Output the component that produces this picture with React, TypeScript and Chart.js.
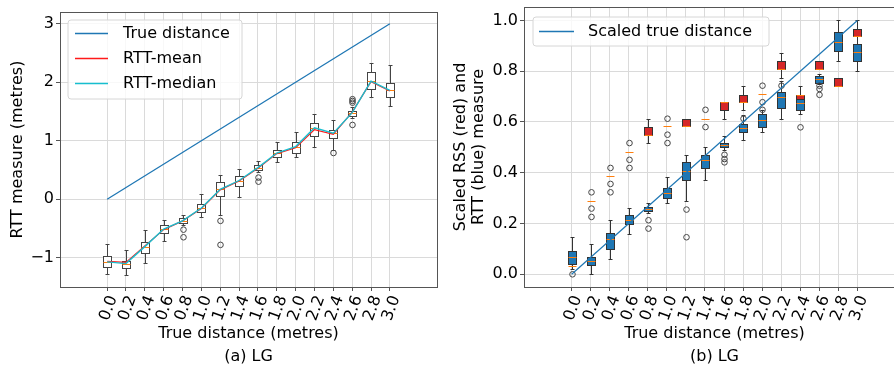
import React, { useEffect, useRef } from "react";
import { Chart, registerables } from "chart.js";
Chart.register(...registerables);

const FONT = "'DejaVu Sans', sans-serif";

// ---------- shared categories ----------
const distances = [0.0, 0.2, 0.4, 0.6, 0.8, 1.0, 1.2, 1.4, 1.6, 1.8, 2.0, 2.2, 2.4, 2.6, 2.8, 3.0];

// ---------- (a) LG : RTT measure (metres) ----------
const aLow = [-1.28, -1.30, -1.09, -0.72, -0.44, -0.31, -0.27, 0.03, 0.47, 0.63, 0.72, 0.90, 0.85, 1.39, 1.74, 1.60];
const aQ1 = [-1.15, -1.17, -0.92, -0.58, -0.40, -0.21, 0.05, 0.23, 0.50, 0.73, 0.79, 1.08, 1.05, 1.43, 1.88, 1.74];
const aMedian = [-1.07, -1.10, -0.81, -0.51, -0.37, -0.15, 0.17, 0.32, 0.54, 0.79, 0.90, 1.22, 1.13, 1.48, 2.02, 1.86];
const aQ3 = [-0.97, -1.05, -0.73, -0.44, -0.32, -0.08, 0.30, 0.39, 0.58, 0.84, 0.97, 1.31, 1.19, 1.51, 2.17, 1.99];
const aHigh = [-0.77, -0.86, -0.52, -0.35, -0.27, 0.09, 0.42, 0.51, 0.66, 0.97, 1.15, 1.46, 1.35, 1.57, 2.33, 2.29];
const aMean = [-1.06, -1.08, -0.80, -0.52, -0.37, -0.16, 0.16, 0.31, 0.53, 0.78, 0.88, 1.19, 1.11, 1.49, 2.01, 1.85];
const aOutliers = [[], [], [], [], [-0.52, -0.65], [], [-0.37, -0.78], [], [0.37, 0.30], [], [], [], [0.79], [1.71, 1.68, 1.65, 1.27], [], []];
const aTrueX = [0.0, 3.0];
const aTrueY = [0.0, 3.0];
const aYTicks = [-1, 0, 1, 2, 3];

// ---------- (b) LG : scaled RTT (blue) ----------
const bRttLow = [0.02, 0.00, 0.06, 0.16, 0.24, 0.28, 0.29, 0.37, 0.49, 0.53, 0.56, 0.61, 0.63, 0.75, 0.84, 0.80];
const bRttQ1 = [0.04, 0.035, 0.10, 0.20, 0.25, 0.30, 0.37, 0.42, 0.50, 0.56, 0.58, 0.655, 0.648, 0.753, 0.88, 0.84];
const bRttMedian = [0.067, 0.054, 0.139, 0.215, 0.257, 0.32, 0.405, 0.449, 0.509, 0.576, 0.606, 0.697, 0.675, 0.77, 0.915, 0.874];
const bRttQ3 = [0.09, 0.068, 0.163, 0.235, 0.265, 0.34, 0.442, 0.471, 0.517, 0.592, 0.631, 0.72, 0.707, 0.78, 0.954, 0.907];
const bRttHigh = [0.147, 0.121, 0.213, 0.26, 0.281, 0.383, 0.471, 0.503, 0.543, 0.629, 0.648, 0.76, 0.743, 0.79, 1.0, 1.0];
const bRttOutliers = [[0.0], [], [], [], [0.213, 0.18], [], [0.255, 0.146], [], [0.471, 0.454, 0.441], [0.613], [], [0.743], [0.579], [0.743, 0.73, 0.707], [], []];

// ---------- (b) LG : scaled RSS (red) ----------
const bRssLow = [0.031, 0.29, 0.388, 0.483, 0.517, 0.583, 0.583, 0.613, 0.613, 0.648, 0.71, 0.773, 0.69, 0.808, 0.743, 0.937];
const bRssQ1 = [0.031, 0.29, 0.388, 0.483, 0.55, 0.583, 0.583, 0.613, 0.648, 0.677, 0.71, 0.808, 0.69, 0.808, 0.743, 0.937];
const bRssMedian = [0.031, 0.29, 0.388, 0.483, 0.55, 0.583, 0.583, 0.613, 0.677, 0.677, 0.71, 0.808, 0.707, 0.808, 0.743, 0.937];
const bRssQ3 = [0.031, 0.29, 0.388, 0.483, 0.579, 0.583, 0.613, 0.613, 0.677, 0.707, 0.71, 0.839, 0.707, 0.839, 0.773, 0.967];
const bRssHigh = [0.031, 0.29, 0.388, 0.483, 0.613, 0.583, 0.613, 0.613, 0.677, 0.743, 0.71, 0.871, 0.707, 0.839, 0.773, 0.967];
const bRssOutliers = [[], [0.323, 0.259, 0.226], [0.419, 0.356, 0.323], [0.517, 0.451, 0.419], [], [0.613, 0.55, 0.517], [], [0.648, 0.58], [], [], [0.743, 0.678, 0.648], [], [], [], [], []];
const bTrueX = [0.0, 3.0];
const bTrueY = [0.0, 1.0];
const bYTicks = [0.0, 0.2, 0.4, 0.6, 0.8, 1.0];

// ---------- plugins ----------
type Group = {
  low: number[]; q1: number[]; med: number[]; q3: number[]; high: number[]; outliers: number[][];
  fill: string; edge: string; halfWidth: number;
};

function makeBoxPlugin(groups: Group[]) {
  return {
    id: "boxplots",
    beforeDatasetsDraw(chart: any) {
      const { ctx, chartArea: ca } = chart;
      const xs = chart.scales.x;
      const ys = chart.scales.y;
      ctx.save();
      ctx.beginPath();
      ctx.rect(ca.left, ca.top, ca.width, ca.height);
      ctx.clip();
      const py = (v: number) => Math.round(ys.getPixelForValue(v)) + 0.5;
      for (const g of groups) {
        distances.forEach((d, i) => {
          const cx = Math.round(xs.getPixelForValue(d)) + 0.5;
          const half = Math.round(Math.abs(xs.getPixelForValue(d + g.halfWidth) - xs.getPixelForValue(d)));
          const capHalf = Math.round(half / 2);
          const yLow = py(g.low[i]), yQ1 = py(g.q1[i]), yMed = py(g.med[i]), yQ3 = py(g.q3[i]), yHigh = py(g.high[i]);
          ctx.strokeStyle = g.edge;
          ctx.lineWidth = 1;
          ctx.beginPath();
          if (yLow !== yQ1) { ctx.moveTo(cx, yQ1); ctx.lineTo(cx, yLow); }
          if (yHigh !== yQ3) { ctx.moveTo(cx, yQ3); ctx.lineTo(cx, yHigh); }
          ctx.stroke();
          ctx.beginPath();
          if (yLow !== yQ1) { ctx.moveTo(cx - capHalf, yLow); ctx.lineTo(cx + capHalf, yLow); }
          if (yHigh !== yQ3) { ctx.moveTo(cx - capHalf, yHigh); ctx.lineTo(cx + capHalf, yHigh); }
          ctx.stroke();
          if (yQ1 !== yQ3) {
            ctx.fillStyle = g.fill;
            ctx.fillRect(cx - half, yQ3, half * 2, yQ1 - yQ3);
            ctx.strokeRect(cx - half, yQ3, half * 2, yQ1 - yQ3);
          }
          ctx.strokeStyle = "#ff7f0e";
          ctx.beginPath();
          ctx.moveTo(cx - half, yMed);
          ctx.lineTo(cx + half, yMed);
          ctx.stroke();
          ctx.strokeStyle = "#444";
          for (const o of g.outliers[i]) {
            ctx.beginPath();
            ctx.arc(cx, ys.getPixelForValue(o), 2.8, 0, Math.PI * 2);
            ctx.stroke();
          }
        });
      }
      ctx.restore();
    },
  };
}

type LegendCfg = { box: number[]; handle: number[]; textX: number; rowY: number; rowGap: number };

function makeFramePlugin(leg: LegendCfg) {
  return {
    id: "frameLegend",
    afterDatasetsDraw(chart: any) {
      const { ctx, chartArea: ca } = chart;
      ctx.save();
      ctx.strokeStyle = "#555";
      ctx.lineWidth = 1;
      ctx.strokeRect(Math.round(ca.left) + 0.5, Math.round(ca.top) + 0.5, Math.round(ca.width), Math.round(ca.height));
      const x = ca.left + leg.box[0], y = ca.top + leg.box[1], w = leg.box[2], h = leg.box[3];
      const r = 3;
      ctx.beginPath();
      ctx.moveTo(x + r, y);
      ctx.arcTo(x + w, y, x + w, y + h, r);
      ctx.arcTo(x + w, y + h, x, y + h, r);
      ctx.arcTo(x, y + h, x, y, r);
      ctx.arcTo(x, y, x + w, y, r);
      ctx.closePath();
      ctx.fillStyle = "rgba(255,255,255,0.8)";
      ctx.fill();
      ctx.strokeStyle = "#d6d6d6";
      ctx.stroke();
      chart.data.datasets.forEach((ds: any, i: number) => {
        const yy = Math.round(ca.top + leg.rowY + i * leg.rowGap) + 0.5;
        ctx.strokeStyle = ds.borderColor;
        ctx.lineWidth = 1.5;
        ctx.beginPath();
        ctx.moveTo(ca.left + leg.handle[0], yy);
        ctx.lineTo(ca.left + leg.handle[1], yy);
        ctx.stroke();
        ctx.fillStyle = "#000";
        ctx.font = `16px ${FONT}`;
        ctx.textBaseline = "middle";
        ctx.textAlign = "left";
        ctx.fillText(ds.label, ca.left + leg.textX, yy);
      });
      ctx.restore();
    },
  };
}

// ---------- scale builders ----------
function xScale(titleLines: string[]) {
  return {
    type: "linear",
    min: -0.5,
    max: 3.5,
    afterBuildTicks: (s: any) => { s.ticks = distances.map((v) => ({ value: v })); },
    afterFit: (s: any) => { s.height = 81; s.paddingLeft = 0; s.paddingRight = 0; },
    ticks: {
      autoSkip: false, minRotation: 70, maxRotation: 70, padding: 2, labelOffset: 6,
      color: "#000", font: { family: FONT, size: 16 },
      callback: (v: any) => Number(v).toFixed(1),
    },
    grid: { color: "#dadada", lineWidth: 1, drawTicks: true, tickLength: 4, tickColor: "#555" },
    border: { display: true, color: "#555", width: 1 },
    title: {
      display: true, text: titleLines, color: "#000",
      font: { family: FONT, size: 16, lineHeight: 1.44 }, padding: { top: 0, bottom: 0 },
    },
  };
}

function yScale(min: number, max: number, ticks: number[], width: number, fmt: (v: number) => string,
  title: string | string[], lineHeight: number, titlePadTop: number) {
  return {
    type: "linear",
    min, max,
    afterBuildTicks: (s: any) => { s.ticks = ticks.map((v) => ({ value: v })); },
    afterFit: (s: any) => { s.width = width; s.paddingTop = 0; s.paddingBottom = 0; },
    ticks: { padding: 2, color: "#000", font: { family: FONT, size: 16 }, callback: (v: any) => fmt(Number(v)) },
    grid: { color: "#dadada", lineWidth: 1, drawTicks: true, tickLength: 4, tickColor: "#555" },
    border: { display: true, color: "#555", width: 1 },
    title: {
      display: true, text: title, color: "#000",
      font: { family: FONT, size: 16, lineHeight }, padding: { top: titlePadTop, bottom: 0 },
    },
  };
}

function lineDs(label: string, xs: number[], ys: number[], color: string, width: number, order: number) {
  return {
    label,
    data: xs.map((x, i) => ({ x, y: ys[i] })),
    borderColor: color,
    backgroundColor: color,
    borderWidth: width,
    pointRadius: 0,
    tension: 0,
    fill: false,
    order,
  };
}

function leftConfig(): any {
  return {
    type: "line",
    data: {
      datasets: [
        lineDs("True distance", aTrueX, aTrueY, "#1f77b4", 1.3, 3),
        lineDs("RTT-mean", distances, aMean, "#ff1a1a", 1.2, 2),
        lineDs("RTT-median", distances, aMedian, "#17becf", 1.4, 1),
      ],
    },
    options: {
      responsive: false,
      animation: false,
      devicePixelRatio: 1,
      layout: { padding: { left: 0, right: 10, top: 12, bottom: 0 } },
      plugins: { legend: { display: false }, tooltip: { enabled: false } },
      scales: {
        x: xScale(["True distance (metres)", "(a) LG"]),
        y: yScale(-1.5, 3.2, aYTicks, 60, (v) => (v < 0 ? "\u2212" + Math.abs(v) : String(v)),
          "RTT measure (metres)", 1.2, 8),
      },
    },
    plugins: [
      makeBoxPlugin([{ low: aLow, q1: aQ1, med: aMedian, q3: aQ3, high: aHigh, outliers: aOutliers, fill: "#ffffff", edge: "#444", halfWidth: 0.045 }]),
      makeFramePlugin({ box: [8, 8, 174, 79], handle: [15, 48], textX: 63, rowY: 21, rowGap: 25 }),
    ],
  };
}

function rightConfig(): any {
  return {
    type: "line",
    data: {
      datasets: [lineDs("Scaled true distance", bTrueX, bTrueY, "#1f77b4", 1.2, 1)],
    },
    options: {
      responsive: false,
      animation: false,
      devicePixelRatio: 1,
      layout: { padding: { left: 0, right: 5, top: 7, bottom: 0 } },
      plugins: { legend: { display: false }, tooltip: { enabled: false } },
      scales: {
        x: xScale(["True distance (metres)", "(b) LG"]),
        y: yScale(-0.05, 1.053, bYTicks, 74, (v) => v.toFixed(1),
          ["Scaled RSS (red) and", "RTT (blue) measure"], 1.125, 2),
      },
    },
    plugins: [
      makeBoxPlugin([
        { low: bRttLow, q1: bRttQ1, med: bRttMedian, q3: bRttQ3, high: bRttHigh, outliers: bRttOutliers, fill: "#1f77b4", edge: "#333", halfWidth: 0.042 },
        { low: bRssLow, q1: bRssQ1, med: bRssMedian, q3: bRssQ3, high: bRssHigh, outliers: bRssOutliers, fill: "#d62728", edge: "#333", halfWidth: 0.042 },
      ]),
      makeFramePlugin({ box: [9, 10, 236, 29], handle: [15, 50], textX: 64, rowY: 24, rowGap: 25 }),
    ],
  };
}

export default function App() {
  const leftRef = useRef<HTMLCanvasElement>(null);
  const rightRef = useRef<HTMLCanvasElement>(null);
  useEffect(() => {
    const c1 = new Chart(leftRef.current as HTMLCanvasElement, leftConfig());
    const c2 = new Chart(rightRef.current as HTMLCanvasElement, rightConfig());
    return () => { c1.destroy(); c2.destroy(); };
  }, []);
  return (
    <div style={{ position: "fixed", left: 0, top: 0, width: 894, height: 368, overflow: "hidden", background: "#fff" }}>
      <canvas ref={leftRef} width={447} height={368} style={{ position: "absolute", left: 0, top: 0, width: 447, height: 368 }} />
      <canvas ref={rightRef} width={460} height={368} style={{ position: "absolute", left: 450, top: 0, width: 460, height: 368 }} />
    </div>
  );
}
